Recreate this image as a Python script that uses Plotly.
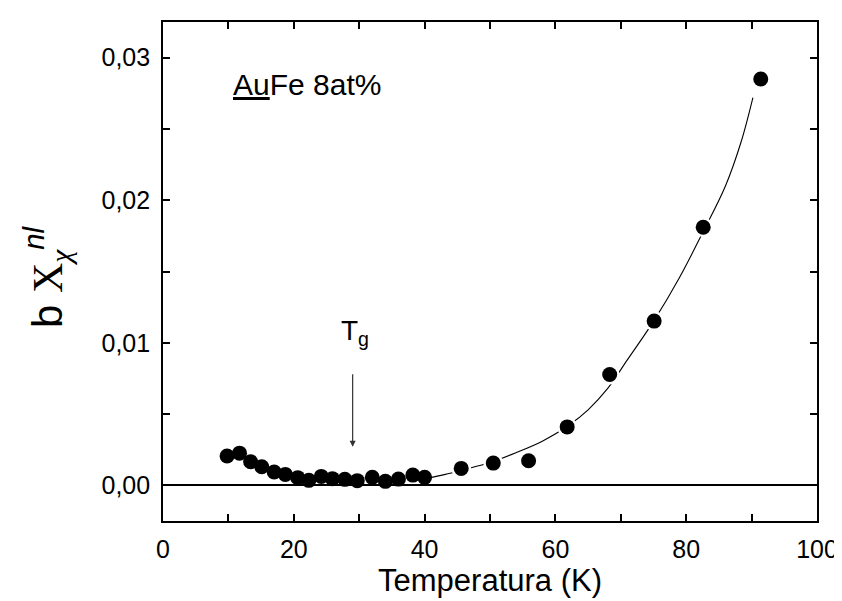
import plotly.graph_objects as go

# measured data
temp_K = [9.8, 11.7, 13.4, 15.1, 17.0, 18.7, 20.6, 22.3, 24.2, 25.9, 27.8, 29.7,
          32.0, 34.0, 36.0, 38.2, 40.0, 45.6, 50.5, 55.9, 61.8, 68.3, 75.1, 82.6, 91.4]
chi_nl = [0.00206, 0.00226, 0.00166, 0.00131, 0.00094, 0.00077, 0.00054, 0.00035,
          0.00063, 0.00047, 0.00042, 0.00033, 0.00056, 0.00028, 0.00044, 0.00072,
          0.00056, 0.00119, 0.00156, 0.00173, 0.0041, 0.00778, 0.01152, 0.0181, 0.0285]

# fitted curve
fit_T = [40.5, 43, 46, 50, 54, 58, 62, 65, 68, 71, 75, 79, 82.6, 86, 88.4, 90.2]
fit_chi = [0.0005, 0.00075, 0.0011, 0.0016, 0.0023, 0.0031, 0.0042, 0.0053, 0.0068,
           0.0088, 0.0115, 0.0146, 0.0178, 0.0210, 0.0241, 0.0272]

x_ticks = [0, 20, 40, 60, 80, 100]
y_ticks = [0.00, 0.01, 0.02, 0.03]

FONT = "Liberation Sans, Arial, sans-serif"

fig = go.Figure()
fig.add_trace(go.Scatter(x=fit_T, y=fit_chi, mode="lines",
                         line=dict(color="black", width=1.1, shape="spline"),
                         hoverinfo="skip", showlegend=False))
# white halo around markers so the fit line stops short of them
halo_T = [t for t in temp_K if t > 42]
halo_chi = [c for t, c in zip(temp_K, chi_nl) if t > 42]
fig.add_trace(go.Scatter(x=halo_T, y=halo_chi, mode="markers",
                         marker=dict(color="white", size=20, line=dict(width=0)),
                         hoverinfo="skip", showlegend=False))
fig.add_trace(go.Scatter(x=temp_K, y=chi_nl, mode="markers",
                         marker=dict(color="black", size=15, line=dict(width=0)),
                         showlegend=False))

axis_common = dict(showline=True, linecolor="black", linewidth=1.6, mirror="ticks",
                   ticks="inside", ticklen=7, tickwidth=1.5, tickcolor="black",
                   showgrid=False, tickfont=dict(family=FONT, size=25, color="black"))

fig.update_xaxes(range=[0, 100], tickvals=x_ticks, ticklabelstandoff=5,
                 minor=dict(dtick=10, ticks="inside", ticklen=7, tickwidth=1.5,
                            tickcolor="black", showgrid=False),
                 zeroline=False,
                 title=dict(text="Temperatura (K)", font=dict(family=FONT, size=31, color="black"),
                            standoff=8),
                 **axis_common)
fig.update_yaxes(range=[-0.0025, 0.0325], tickvals=y_ticks, tickformat=".2f",
                 ticklabelstandoff=6,
                 minor=dict(dtick=0.005, ticks="inside", ticklen=7, tickwidth=1.5,
                            tickcolor="black", showgrid=False),
                 zeroline=True, zerolinecolor="black", zerolinewidth=1.6,
                 **axis_common)

fig.add_annotation(xref="paper", yref="paper", x=-0.178, y=0.49, textangle=-90,
                   showarrow=False, xanchor="center", yanchor="middle",
                   text='b <span style="font-family:Liberation Serif">X</span>'
                        '<sub><span style="font-family:Liberation Serif"><i>χ</i></span></sub>'
                        '<sup><i>nl</i></sup>',
                   font=dict(family=FONT, size=42, color="black"))

fig.add_annotation(x=10.4, y=0.0281, xanchor="left", yanchor="middle", showarrow=False,
                   text='<span style="text-decoration:underline">Au</span>Fe 8at%',
                   font=dict(family=FONT, size=30, color="black"))

fig.add_annotation(x=29.4, y=0.0107, xanchor="center", yanchor="middle", showarrow=False,
                   text="T<sub>g</sub>", font=dict(family=FONT, size=28, color="black"))
fig.add_annotation(x=29, y=0.0027, ax=29, ay=0.0079, axref="x", ayref="y",
                   xref="x", yref="y", text="", showarrow=True,
                   arrowhead=2, arrowsize=1, arrowwidth=1.2, arrowcolor="#333333")

fig.update_layout(width=842, height=601, separators=",.",
                  margin=dict(l=155, r=25, t=14, b=88),
                  plot_bgcolor="white", paper_bgcolor="white",
                  font=dict(family=FONT, color="black"))

fig.write_html("out.html")
